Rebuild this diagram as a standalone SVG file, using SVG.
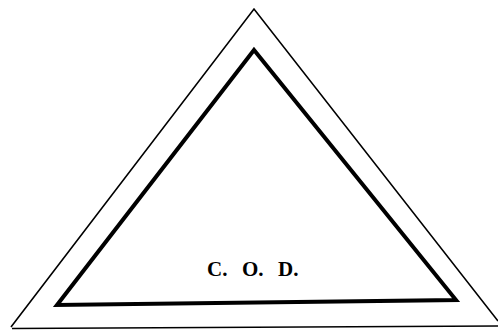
<svg xmlns="http://www.w3.org/2000/svg" width="498" height="330" viewBox="0 0 498 330">
<style>
.outer{fill:none;stroke:#000;stroke-width:1.6}
.inner{fill:none;stroke:#000;stroke-width:4;stroke-linejoin:miter}
.lbl{font-family:"Liberation Serif","DejaVu Serif",serif;font-size:21px;font-weight:bold;fill:#000}
</style>
<rect width="498" height="330" fill="#fff"/>
<g id="outer-triangle">
<path class="outer" d="M11,327 L254,9 L498,321"/>
<path class="outer" d="M12,328.5 L498,326"/>
</g>
<g id="inner-triangle">
<path class="inner" d="M57,305 L254,50 L456,300 Z"/>
</g>
<g id="label">
<text class="lbl" y="276"><tspan x="207">C.</tspan><tspan x="242">O.</tspan><tspan x="278">D.</tspan></text>
</g>
</svg>
